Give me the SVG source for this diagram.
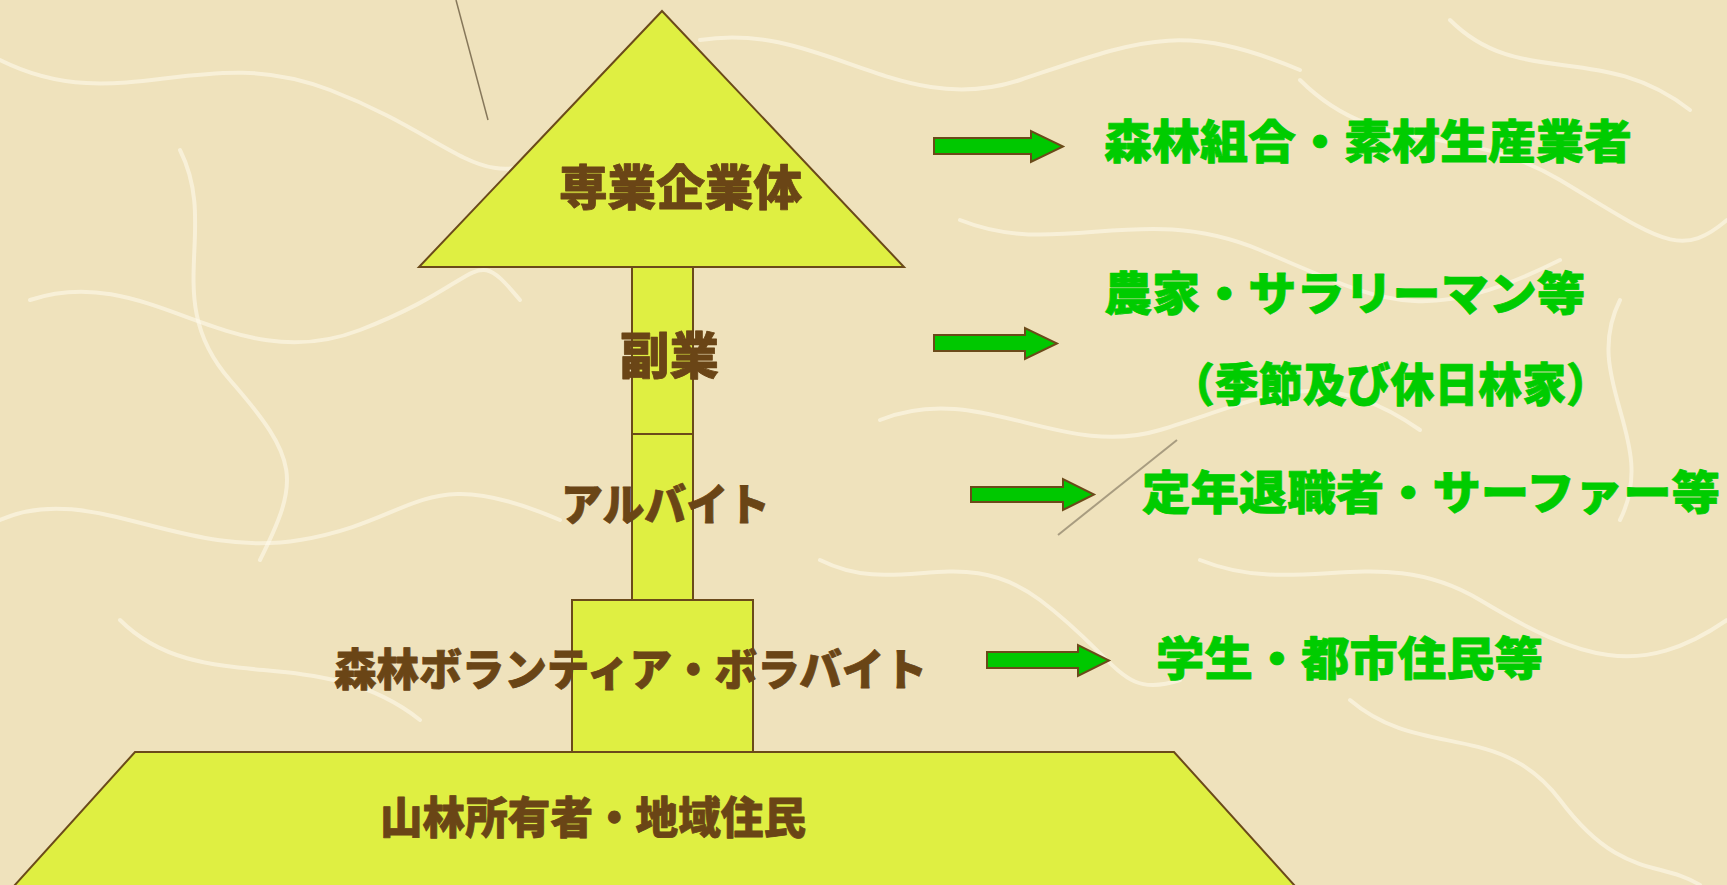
<svg xmlns="http://www.w3.org/2000/svg" width="1727" height="885" viewBox="0 0 1727 885">
<style>
.shape{fill:#DFEF42;stroke:#6B4A1A;stroke-width:2;stroke-linejoin:miter}
.lbl{font-family:"Noto Sans CJK JP","Noto Sans",sans-serif;font-weight:900;fill:#6A4516;stroke:#6A4516;stroke-width:0.8;stroke-linejoin:round}
.grn{font-family:"Noto Sans CJK JP","Noto Sans",sans-serif;font-weight:900;fill:#00CC00;stroke:#00CC00;stroke-width:0.8;stroke-linejoin:round;font-size:46px}
.arrow{fill:#00C800;stroke:#6B4A1A;stroke-width:2}
.fiber{fill:none;stroke:#FFFBEF;stroke-opacity:0.55;stroke-width:4;stroke-linecap:round}
</style>
<rect x="0" y="0" width="1727" height="885" fill="#EFE2BC"/>
<g id="texture">
<path class="fiber" d="M0,60 C120,120 200,40 330,90 S480,200 560,150"/>
<path class="fiber" d="M30,300 C150,260 230,380 360,330 S470,240 520,300"/>
<path class="fiber" d="M0,520 C90,480 180,560 300,540 S420,460 560,520"/>
<path class="fiber" d="M120,620 C200,700 320,640 420,720"/>
<path class="fiber" d="M700,40 C820,20 900,120 1020,80 S1180,20 1300,70"/>
<path class="fiber" d="M960,220 C1060,260 1140,200 1260,250 S1420,330 1560,260"/>
<path class="fiber" d="M1300,80 C1380,160 1460,120 1560,180 S1680,260 1727,220"/>
<path class="fiber" d="M880,420 C980,380 1060,460 1160,430 S1320,360 1420,430"/>
<path class="fiber" d="M1200,560 C1300,600 1380,540 1480,600 S1640,680 1727,620"/>
<path class="fiber" d="M1350,700 C1420,760 1500,720 1560,800 S1660,860 1700,885"/>
<path class="fiber" d="M1450,20 C1520,90 1600,40 1690,110"/>
<path class="fiber" d="M820,560 C900,600 960,540 1040,600 S1120,700 1180,680"/>
<path class="fiber" d="M180,150 C220,230 160,300 230,380 S300,480 260,560"/>
<path class="fiber" d="M1620,300 C1580,380 1660,440 1620,520"/>
<line x1="456" y1="0" x2="488" y2="120" stroke="#5A4A30" stroke-width="1.5" stroke-opacity="0.7"/>
<line x1="1177" y1="440" x2="1058" y2="535" stroke="#8A7F66" stroke-width="2" stroke-opacity="0.7"/>
</g>
<g id="node-senggyo">
<polygon class="shape" points="662,11 419,267 904,267"/>
<text class="lbl" x="559" y="205" font-size="48" textLength="243" lengthAdjust="spacingAndGlyphs">専業企業体</text>
</g>
<g id="node-fukugyo">
<rect class="shape" x="632" y="267" width="61" height="167"/>
<text class="lbl" x="620" y="374" font-size="50" textLength="99" lengthAdjust="spacingAndGlyphs">副業</text>
</g>
<g id="node-arubaito">
<rect class="shape" x="632" y="434" width="61" height="166"/>
<text class="lbl" x="561" y="521" font-size="44" textLength="209" lengthAdjust="spacingAndGlyphs">アルバイト</text>
</g>
<g id="node-volunteer">
<rect class="shape" x="572" y="600" width="181" height="152"/>
<text class="lbl" x="334" y="686" font-size="44" textLength="593" lengthAdjust="spacingAndGlyphs">森林ボランティア・ボラバイト</text>
</g>
<g id="node-owner">
<polygon class="shape" points="135,752 1174,752 1295,886 14,886"/>
<text class="lbl" x="380" y="834" font-size="44" textLength="426" lengthAdjust="spacingAndGlyphs">山林所有者・地域住民</text>
</g>
<g id="connectors">
<polygon class="arrow" points="934,138 1031,138 1031,131 1063,146.5 1031,162 1031,154 934,154"/>
<polygon class="arrow" points="934,335 1025,335 1025,328 1057,343.5 1025,359 1025,351 934,351"/>
<polygon class="arrow" points="971,487 1063,487 1063,479 1094,494.5 1063,510 1063,502 971,502"/>
<polygon class="arrow" points="987,652 1078,652 1078,645 1109,660.5 1078,676 1078,668 987,668"/>
</g>
<g id="labels-right">
<text class="grn" x="1104" y="158" textLength="528" lengthAdjust="spacingAndGlyphs">森林組合・素材生産業者</text>
<text class="grn" x="1104" y="310" textLength="481" lengthAdjust="spacingAndGlyphs">農家・サラリーマン等</text>
<text class="grn" x="1171" y="401" textLength="439" lengthAdjust="spacingAndGlyphs">（季節及び休日林家）</text>
<text class="grn" x="1142" y="509" textLength="578" lengthAdjust="spacingAndGlyphs">定年退職者・サーファー等</text>
<text class="grn" x="1156" y="675" textLength="387" lengthAdjust="spacingAndGlyphs">学生・都市住民等</text>
</g>
</svg>
